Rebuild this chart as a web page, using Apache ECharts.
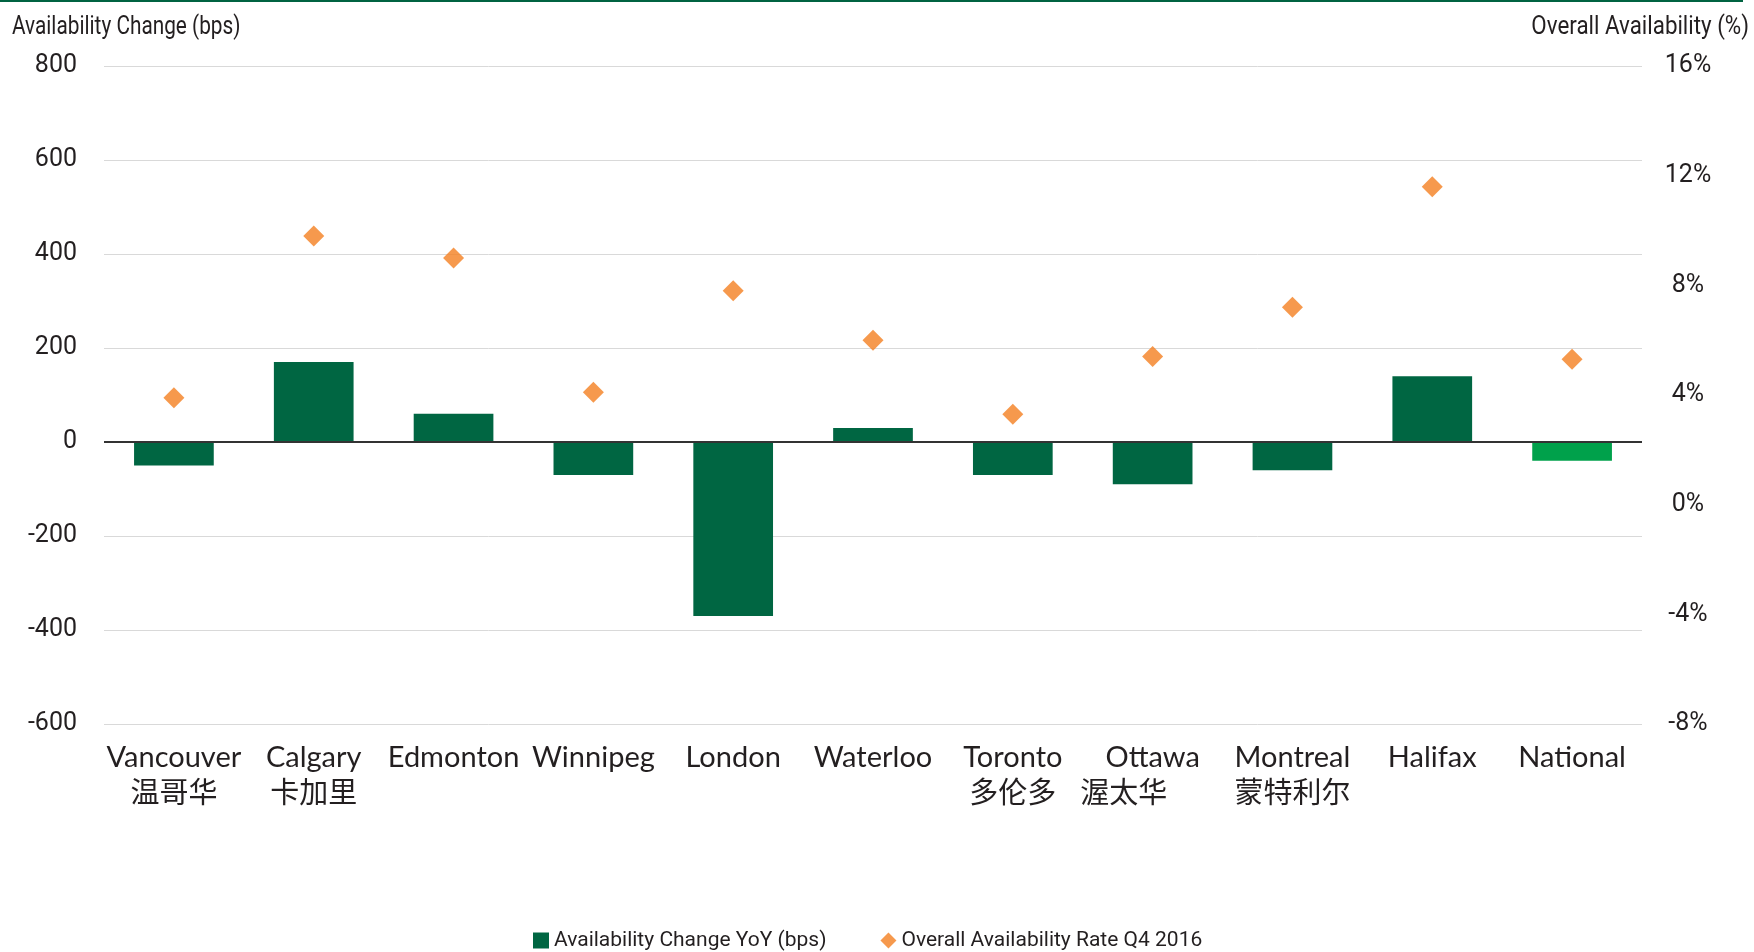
<!DOCTYPE html>
<html>
<head>
<meta charset="utf-8">
<script src="https://cdn.jsdelivr.net/npm/echarts@6/dist/echarts.min.js"></script>
<style>
  html, body { margin: 0; padding: 0; background: #ffffff; }
  #chart { width: 1754px; height: 952px; }
</style>
</head>
<body>
<div id="chart"></div>
<script>
// Office market availability by city
const cities = [
  'Vancouver\n温哥华', 'Calgary\n卡加里', 'Edmonton', 'Winnipeg', 'London',
  'Waterloo', 'Toronto\n多伦多', 'Ottawa\n渥太华　　', 'Montreal\n蒙特利尔', 'Halifax', 'National'
];
const changeBps = [-50, 170, 60, -70, -370, 30, -70, -90, -60, 140, -40];
const availabilityPct = [3.9, 9.8, 9.0, 4.1, 7.8, 6.0, 3.3, 5.4, 7.2, 11.6, 5.3];
const leftTicks = { min: -600, max: 800, step: 200 };
const rightTicks = { min: -8, max: 16, step: 4 };
const leftAxisTitle = 'Availability Change (bps)';
const rightAxisTitle = 'Overall Availability (%)';

const DARK_GREEN = '#006642';
const BRIGHT_GREEN = '#00a14b';
const ORANGE = '#f47f20';
const TEXT = '#231f20';
const NARROW = 'Roboto, sans-serif';
const BODY = 'Lato, "Noto Sans CJK SC", sans-serif';

const chart = echarts.init(document.getElementById('chart'), null, { renderer: 'canvas' });

const barData = changeBps.map((v, i) => ({
  value: v,
  itemStyle: { color: i === cities.length - 1 ? BRIGHT_GREEN : DARK_GREEN }
}));

chart.setOption({
  backgroundColor: '#ffffff',
  animation: false,
  graphic: [
    {
      type: 'rect',
      shape: { x: 0, y: 0, width: 1743, height: 2 },
      style: { fill: '#006341' },
      silent: true
    },
    // axis titles, horizontally condensed
    {
      type: 'text', x: 12, y: 27, scaleX: 0.8,
      style: {
        text: leftAxisTitle, fill: TEXT, font: '26px ' + NARROW,
        align: 'left', verticalAlign: 'middle'
      }
    },
    {
      type: 'text', x: 1749, y: 27, scaleX: 0.86,
      style: {
        text: rightAxisTitle, fill: TEXT, font: '26px ' + NARROW,
        align: 'right', verticalAlign: 'middle'
      }
    }
  ],
  grid: { left: 104, right: 112, top: 66, bottom: 228, containLabel: false },
  legend: {
    left: 528, top: 925,
    itemWidth: 16, itemHeight: 16, itemGap: 54,
    textStyle: { fontFamily: NARROW, fontSize: 21, color: TEXT },
    data: [
      { name: 'Availability Change YoY (bps)', icon: 'rect' },
      { name: 'Overall Availability Rate Q4 2016', icon: 'diamond' }
    ]
  },
  xAxis: {
    type: 'category',
    data: cities,
    axisLine: { show: false, onZero: false },
    axisTick: { show: false },
    axisLabel: {
      margin: 16,
      interval: 0,
      fontFamily: BODY,
      fontSize: 29,
      lineHeight: 36,
      color: TEXT
    }
  },
  yAxis: [
    {
      type: 'value',
      min: leftTicks.min, max: leftTicks.max, interval: leftTicks.step,
      axisLine: { show: false },
      axisTick: { show: false },
      splitLine: { lineStyle: { color: '#d9d9d9', width: 1 } },
      axisLabel: { margin: 27, fontFamily: NARROW, fontSize: 25, color: TEXT }
    },
    {
      type: 'value',
      position: 'right',
      min: rightTicks.min, max: rightTicks.max, interval: rightTicks.step,
      axisLine: { show: false },
      axisTick: { show: false },
      splitLine: { show: false },
      axisLabel: {
        margin: 46, align: 'center',
        formatter: '{value}%',
        fontFamily: NARROW, fontSize: 25, color: TEXT
      }
    }
  ],
  series: [
    {
      name: 'Availability Change YoY (bps)',
      type: 'bar',
      yAxisIndex: 0,
      barWidth: '57%',
      itemStyle: { color: DARK_GREEN },
      data: barData,
      markLine: {
        silent: true,
        symbol: 'none',
        label: { show: false },
        lineStyle: { color: '#333333', width: 2, type: 'solid' },
        data: [{ yAxis: 0 }]
      }
    },
    {
      name: 'Overall Availability Rate Q4 2016',
      type: 'scatter',
      yAxisIndex: 1,
      symbol: 'diamond',
      symbolSize: 21,
      itemStyle: { color: ORANGE },
      data: availabilityPct,
      z: 5
    }
  ]
});
</script>
</body>
</html>
